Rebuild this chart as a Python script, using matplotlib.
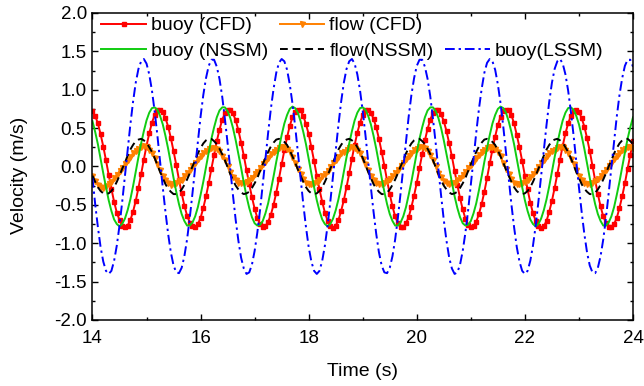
import matplotlib

matplotlib.use("Agg")
import matplotlib.pyplot as plt
import numpy as np
from matplotlib.lines import Line2D
from matplotlib.ticker import MultipleLocator

# sampling: 14 s .. 24 s, every 0.05 s
t_start = 14.0
t_step = 0.05

buoy_cfd = [
    0.72, 0.66, 0.56, 0.42, 0.26, 0.08, -0.11, -0.29, -0.46, -0.60,
    -0.70, -0.77, -0.79, -0.77, -0.70, -0.59, -0.45, -0.28, -0.10, 0.09,
    0.27, 0.43, 0.57, 0.67, 0.73, 0.74, 0.71, 0.63, 0.52, 0.37,
    0.20, 0.02, -0.17, -0.35, -0.51, -0.64, -0.73, -0.78, -0.79, -0.75,
    -0.67, -0.54, -0.39, -0.22, -0.03, 0.15, 0.33, 0.48, 0.61, 0.69,
    0.74, 0.73, 0.69, 0.60, 0.47, 0.31, 0.14, -0.05, -0.23, -0.40,
    -0.55, -0.67, -0.75, -0.79, -0.78, -0.72, -0.63, -0.50, -0.34, -0.16,
    0.03, 0.21, 0.38, 0.53, 0.64, 0.71, 0.74, 0.73, 0.66, 0.55,
    0.42, 0.25, 0.07, -0.12, -0.30, -0.46, -0.60, -0.71, -0.77, -0.80,
    -0.77, -0.70, -0.58, -0.44, -0.27, -0.09, 0.10, 0.28, 0.44, 0.57,
    0.67, 0.73, 0.74, 0.70, 0.62, 0.51, 0.36, 0.19, 0.01, -0.18,
    -0.36, -0.52, -0.65, -0.74, -0.79, -0.79, -0.74, -0.66, -0.53, -0.38,
    -0.21, -0.02, 0.16, 0.34, 0.49, 0.61, 0.70, 0.74, 0.73, 0.68,
    0.59, 0.46, 0.30, 0.13, -0.06, -0.24, -0.41, -0.56, -0.68, -0.76,
    -0.79, -0.78, -0.72, -0.62, -0.49, -0.33, -0.15, 0.04, 0.22, 0.39,
    0.54, 0.65, 0.72, 0.74, 0.73, 0.67, 0.56, 0.41, 0.25, 0.07,
    -0.12, -0.30, -0.47, -0.61, -0.71, -0.78, -0.80, -0.78, -0.71, -0.59,
    -0.45, -0.28, -0.10, 0.09, 0.27, 0.43, 0.56, 0.66, 0.72, 0.74,
    0.71, 0.63, 0.52, 0.37, 0.20, 0.01, -0.18, -0.36, -0.52, -0.65,
    -0.74, -0.79, -0.79, -0.75, -0.67, -0.54, -0.39, -0.22, -0.03, 0.15,
    0.33,
]

flow_cfd = [
    -0.12, -0.19, -0.24, -0.27, -0.28, -0.26, -0.23, -0.20, -0.15, -0.11,
    -0.06, -0.02, 0.03, 0.08, 0.12, 0.17, 0.20, 0.23, 0.25, 0.27,
    0.26, 0.22, 0.17, 0.11, 0.03, -0.05, -0.12, -0.18, -0.22, -0.24,
    -0.23, -0.22, -0.19, -0.17, -0.12, -0.09, -0.05, 0.01, 0.04, 0.10,
    0.13, 0.18, 0.20, 0.23, 0.24, 0.24, 0.23, 0.20, 0.14, 0.08,
    0.01, -0.07, -0.14, -0.18, -0.21, -0.22, -0.21, -0.20, -0.17, -0.15,
    -0.10, -0.07, -0.02, 0.03, 0.06, 0.11, 0.16, 0.19, 0.22, 0.24,
    0.25, 0.25, 0.23, 0.19, 0.12, 0.05, -0.03, -0.10, -0.16, -0.21,
    -0.23, -0.23, -0.22, -0.20, -0.17, -0.13, -0.10, -0.06, -0.01, 0.04,
    0.08, 0.12, 0.17, 0.19, 0.22, 0.24, 0.25, 0.24, 0.22, 0.17,
    0.10, 0.03, -0.05, -0.12, -0.18, -0.22, -0.23, -0.23, -0.21, -0.19,
    -0.16, -0.13, -0.09, -0.04, 0.01, 0.05, 0.10, 0.14, 0.18, 0.21,
    0.23, 0.25, 0.26, 0.24, 0.20, 0.15, 0.08, 0.00, -0.08, -0.14,
    -0.19, -0.22, -0.23, -0.22, -0.21, -0.18, -0.15, -0.11, -0.07, -0.02,
    0.02, 0.07, 0.11, 0.15, 0.19, 0.22, 0.24, 0.25, 0.25, 0.23,
    0.19, 0.13, 0.05, -0.03, -0.10, -0.16, -0.21, -0.23, -0.23, -0.22,
    -0.20, -0.17, -0.14, -0.10, -0.06, -0.01, 0.04, 0.08, 0.13, 0.17,
    0.20, 0.22, 0.24, 0.25, 0.25, 0.22, 0.17, 0.10, 0.03, -0.05,
    -0.12, -0.18, -0.22, -0.23, -0.23, -0.21, -0.19, -0.16, -0.13, -0.09,
    -0.04, 0.01, 0.05, 0.10, 0.14, 0.18, 0.21, 0.23, 0.25, 0.25,
    0.24,
]

buoy_nssm = [
    0.59, 0.45, 0.29, 0.10, -0.09, -0.27, -0.44, -0.58, -0.69, -0.75,
    -0.78, -0.75, -0.68, -0.57, -0.43, -0.26, -0.07, 0.12, 0.30, 0.46,
    0.60, 0.70, 0.76, 0.77, 0.74, 0.66, 0.55, 0.40, 0.23, 0.04,
    -0.15, -0.33, -0.49, -0.62, -0.71, -0.77, -0.77, -0.73, -0.65, -0.53,
    -0.37, -0.20, -0.01, 0.18, 0.36, 0.51, 0.64, 0.73, 0.77, 0.77,
    0.72, 0.63, 0.50, 0.34, 0.16, -0.02, -0.21, -0.39, -0.54, -0.66,
    -0.74, -0.77, -0.76, -0.71, -0.61, -0.48, -0.31, -0.13, 0.06, 0.24,
    0.41, 0.56, 0.67, 0.75, 0.78, 0.76, 0.70, 0.59, 0.45, 0.29,
    0.10, -0.09, -0.27, -0.44, -0.58, -0.69, -0.75, -0.78, -0.75, -0.68,
    -0.57, -0.43, -0.26, -0.07, 0.12, 0.30, 0.46, 0.60, 0.70, 0.76,
    0.77, 0.74, 0.66, 0.55, 0.40, 0.23, 0.04, -0.15, -0.33, -0.49,
    -0.62, -0.71, -0.77, -0.77, -0.73, -0.65, -0.53, -0.37, -0.20, -0.01,
    0.18, 0.36, 0.51, 0.64, 0.73, 0.77, 0.77, 0.72, 0.63, 0.50,
    0.34, 0.16, -0.02, -0.21, -0.39, -0.54, -0.66, -0.74, -0.77, -0.76,
    -0.71, -0.61, -0.48, -0.31, -0.13, 0.06, 0.24, 0.41, 0.56, 0.67,
    0.75, 0.78, 0.76, 0.70, 0.59, 0.45, 0.29, 0.10, -0.09, -0.27,
    -0.44, -0.58, -0.69, -0.75, -0.78, -0.75, -0.68, -0.57, -0.43, -0.26,
    -0.07, 0.12, 0.30, 0.46, 0.60, 0.70, 0.76, 0.77, 0.74, 0.66,
    0.55, 0.40, 0.23, 0.04, -0.15, -0.33, -0.49, -0.62, -0.71, -0.77,
    -0.77, -0.73, -0.65, -0.53, -0.37, -0.20, -0.01, 0.18, 0.36, 0.51,
    0.64,
]

flow_nssm = [
    -0.12, -0.20, -0.27, -0.32, -0.35, -0.36, -0.35, -0.32, -0.27, -0.20,
    -0.12, -0.03, 0.05, 0.14, 0.22, 0.28, 0.33, 0.35, 0.36, 0.34,
    0.31, 0.25, 0.19, 0.11, 0.02, -0.07, -0.15, -0.23, -0.29, -0.33,
    -0.36, -0.36, -0.34, -0.30, -0.24, -0.17, -0.09, 0.00, 0.08, 0.17,
    0.24, 0.30, 0.34, 0.36, 0.36, 0.33, 0.29, 0.23, 0.16, 0.08,
    -0.01, -0.10, -0.18, -0.25, -0.30, -0.34, -0.36, -0.35, -0.33, -0.28,
    -0.22, -0.15, -0.06, 0.03, 0.11, 0.19, 0.26, 0.31, 0.35, 0.36,
    0.35, 0.32, 0.28, 0.21, 0.13, 0.05, -0.04, -0.12, -0.20, -0.27,
    -0.32, -0.35, -0.36, -0.35, -0.32, -0.27, -0.20, -0.12, -0.03, 0.05,
    0.14, 0.22, 0.28, 0.33, 0.35, 0.36, 0.34, 0.31, 0.25, 0.19,
    0.11, 0.02, -0.07, -0.15, -0.23, -0.29, -0.33, -0.36, -0.36, -0.34,
    -0.30, -0.24, -0.17, -0.09, 0.00, 0.08, 0.17, 0.24, 0.30, 0.34,
    0.36, 0.36, 0.33, 0.29, 0.23, 0.16, 0.08, -0.01, -0.10, -0.18,
    -0.25, -0.30, -0.34, -0.36, -0.35, -0.33, -0.28, -0.22, -0.15, -0.06,
    0.03, 0.11, 0.19, 0.26, 0.31, 0.35, 0.36, 0.35, 0.32, 0.28,
    0.21, 0.13, 0.05, -0.04, -0.12, -0.20, -0.27, -0.32, -0.35, -0.36,
    -0.35, -0.32, -0.27, -0.20, -0.12, -0.03, 0.05, 0.14, 0.22, 0.28,
    0.33, 0.35, 0.36, 0.34, 0.31, 0.25, 0.19, 0.11, 0.02, -0.07,
    -0.15, -0.23, -0.29, -0.33, -0.36, -0.36, -0.34, -0.30, -0.24, -0.17,
    -0.09, 0.00, 0.08, 0.17, 0.24, 0.30, 0.34, 0.36, 0.36, 0.33,
    0.29,
]

buoy_lssm = [
    -0.15, -0.49, -0.79, -1.05, -1.24, -1.36, -1.40, -1.36, -1.23, -1.03,
    -0.77, -0.46, -0.13, 0.21, 0.54, 0.84, 1.09, 1.27, 1.37, 1.40,
    1.34, 1.20, 0.99, 0.72, 0.41, 0.07, -0.27, -0.59, -0.88, -1.12,
    -1.29, -1.38, -1.39, -1.32, -1.17, -0.95, -0.67, -0.35, -0.01, 0.32,
    0.65, 0.93, 1.15, 1.31, 1.39, 1.39, 1.30, 1.14, 0.91, 0.62,
    0.30, -0.04, -0.38, -0.70, -0.97, -1.19, -1.33, -1.40, -1.38, -1.28,
    -1.10, -0.86, -0.57, -0.24, 0.10, 0.44, 0.75, 1.01, 1.22, 1.35,
    1.40, 1.37, 1.26, 1.07, 0.82, 0.52, 0.19, -0.15, -0.49, -0.79,
    -1.05, -1.24, -1.36, -1.40, -1.36, -1.23, -1.03, -0.77, -0.46, -0.13,
    0.21, 0.54, 0.84, 1.09, 1.27, 1.37, 1.40, 1.34, 1.20, 0.99,
    0.72, 0.41, 0.07, -0.27, -0.59, -0.88, -1.12, -1.29, -1.38, -1.39,
    -1.32, -1.17, -0.95, -0.67, -0.35, -0.01, 0.32, 0.65, 0.93, 1.15,
    1.31, 1.39, 1.39, 1.30, 1.14, 0.91, 0.62, 0.30, -0.04, -0.38,
    -0.70, -0.97, -1.19, -1.33, -1.40, -1.38, -1.28, -1.10, -0.86, -0.57,
    -0.24, 0.10, 0.44, 0.75, 1.01, 1.22, 1.35, 1.40, 1.37, 1.26,
    1.07, 0.82, 0.52, 0.19, -0.15, -0.49, -0.79, -1.05, -1.24, -1.36,
    -1.40, -1.36, -1.23, -1.03, -0.77, -0.46, -0.13, 0.21, 0.54, 0.84,
    1.09, 1.27, 1.37, 1.40, 1.34, 1.20, 0.99, 0.72, 0.41, 0.07,
    -0.27, -0.59, -0.88, -1.12, -1.29, -1.38, -1.39, -1.32, -1.17, -0.95,
    -0.67, -0.35, -0.01, 0.32, 0.65, 0.93, 1.15, 1.31, 1.39, 1.39,
    1.30,
]


def times(values):
    return t_start + t_step * np.arange(len(values))


plt.rcParams["font.family"] = ["Liberation Sans", "DejaVu Sans"]

fig = plt.figure(figsize=(6.44, 3.86), dpi=100, facecolor="white")
ax = fig.add_axes([0.1436, 0.171, 0.8393, 0.7955])

ax.plot(times(buoy_cfd), buoy_cfd, color="#ff0000", lw=1.4, marker="s",
        ms=2.6, mec="#ff0000", mfc="#ff0000", label="buoy (CFD)")
ax.plot(times(flow_cfd), flow_cfd, color="#ff8000", lw=1.4, marker="v",
        ms=3.6, mec="#ff8000", mfc="#ff8000", label="flow (CFD)")
ax.plot(times(buoy_nssm), buoy_nssm, color="#11cc11", lw=1.4, label="buoy (NSSM)")
ax.plot(times(flow_nssm), flow_nssm, color="black", lw=1.4,
        linestyle=(0, (4, 2.5)), label="flow(NSSM)")
ax.plot(times(buoy_lssm), buoy_lssm, color="#0000ff", lw=1.4,
        linestyle=(0, (5, 2, 1.2, 2)), label="buoy(LSSM)")

ax.set_xlim(14, 24)
ax.set_ylim(-2, 2)
ax.xaxis.set_major_locator(MultipleLocator(2))
ax.xaxis.set_minor_locator(MultipleLocator(1))
ax.yaxis.set_major_locator(MultipleLocator(0.5))
ax.yaxis.set_minor_locator(MultipleLocator(0.25))
ax.yaxis.set_major_formatter(matplotlib.ticker.FormatStrFormatter("%.1f"))

for side in ax.spines.values():
    side.set_linewidth(1.1)
ax.tick_params(which="both", direction="in", top=True, right=True, width=1.0,
               labelsize=13.5)
ax.tick_params(axis="y", pad=4)
ax.tick_params(axis="x", pad=7)
ax.tick_params(which="major", length=4.5)
ax.tick_params(which="minor", length=2.3)

ax.set_xlabel("Time (s)", fontsize=14, labelpad=12)
ax.set_ylabel("Velocity (m/s)", fontsize=14)
ax.yaxis.set_label_coords(-0.119, 0.472)

# legend: 3 columns, last column has only the LSSM entry on row 2
h, l = ax.get_legend_handles_labels()
blank = Line2D([], [], alpha=0)
order = [h[0], h[2], h[1], h[3], blank, h[4]]
names = [l[0], l[2], l[1], l[3], "", l[4]]
ax.legend(order, names, loc="upper left", bbox_to_anchor=(0.009, 1.0), ncol=3,
          frameon=False, fontsize=14, numpoints=1, handlelength=2.3,
          handletextpad=0.25, columnspacing=0.6, labelspacing=0.4,
          borderaxespad=0.0, borderpad=0.2)

fig.savefig("out.png", dpi=100, facecolor="white")
